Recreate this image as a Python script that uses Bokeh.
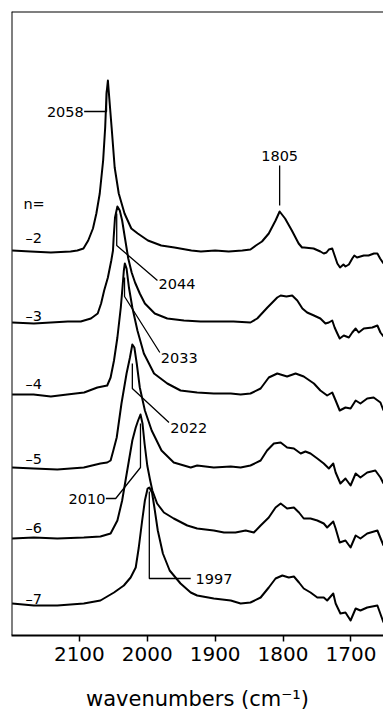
from bokeh.plotting import figure
from bokeh.models import Range1d, Span, Label, FixedTicker
from bokeh.embed import file_html
from bokeh.resources import INLINE

FONT = "DejaVu Sans"

# IR spectra of the carbonyl region for charge states n = -2 ... -7
# wavenumber (cm-1) and absorbance above each trace's own baseline
series_n = [-2, -3, -4, -5, -6, -7]
offsets = [3.84, 3.13, 2.41, 1.68, 0.98, 0.31]

wn_m2 = [2199, 2172, 2142, 2113, 2103, 2094, 2087, 2080, 2075, 2070, 2065, 2062, 2060, 2058, 2056.5,
         2052.5, 2048, 2042, 2033.5, 2023.5, 2014, 1999, 1979.5, 1960, 1935, 1921, 1900, 1880, 1860, 1848,
         1840, 1831, 1821, 1811, 1805, 1797, 1787, 1777, 1772, 1769, 1755, 1745, 1740, 1736, 1732.5,
         1727.5, 1724, 1720, 1716, 1711, 1708, 1703, 1698, 1695, 1691, 1686, 1681, 1674, 1666, 1661,
         1657, 1652]
ab_m2 = [0.01, 0.00, -0.01, 0.00, 0.01, 0.03, 0.11, 0.23, 0.38, 0.58, 0.91, 1.24, 1.58, 1.71, 1.58,
         1.24, 0.84, 0.58, 0.38, 0.23, 0.18, 0.11, 0.06, 0.04, 0.01, 0.00, 0.01, 0.00, 0.01, 0.02,
         0.06, 0.10, 0.18, 0.31, 0.40, 0.33, 0.21, 0.08, 0.04, 0.04, 0.03, 0.00, -0.02, -0.01, 0.02,
         0.03, -0.04, -0.12, -0.16, -0.13, -0.15, -0.13, -0.07, -0.04, -0.06, -0.05, -0.04, -0.04, -0.02, -0.02,
         -0.07, -0.12]

wn_m3 = [2199, 2167, 2142, 2117, 2098, 2083, 2073, 2068, 2063.5, 2058, 2053, 2050.5, 2049.5, 2047.5, 2044,
         2040.5, 2037, 2033, 2028, 2023, 2018, 2011, 2003.5, 1989, 1970.5, 1946, 1921.5, 1873, 1848, 1838,
         1823, 1808.5, 1803.5, 1795, 1786.5, 1779, 1771.5, 1764.5, 1754.5, 1745, 1737.5, 1732.5, 1727.5, 1724, 1720,
         1716.5, 1710.5, 1703, 1698, 1693, 1688.5, 1681, 1668.5, 1661, 1656.5, 1652]
ab_m3 = [0.00, -0.01, 0.00, 0.01, 0.01, 0.04, 0.09, 0.19, 0.32, 0.45, 0.62, 0.72, 0.85, 1.05, 1.16,
         1.12, 1.02, 0.85, 0.64, 0.50, 0.40, 0.29, 0.19, 0.09, 0.04, 0.02, 0.01, 0.01, 0.00, 0.04,
         0.15, 0.25, 0.27, 0.26, 0.27, 0.22, 0.14, 0.10, 0.07, 0.04, -0.01, 0.00, 0.02, -0.05, -0.11,
         -0.16, -0.13, -0.15, -0.10, -0.06, -0.10, -0.06, -0.05, -0.03, -0.10, -0.14]

wn_m4 = [2199, 2167.5, 2142, 2118, 2093, 2073.5, 2059, 2054, 2049, 2044, 2039, 2036.5, 2034.5, 2033, 2030.5,
         2027, 2022, 2014.5, 2005, 1990, 1970.5, 1951, 1926.5, 1902, 1877, 1862.5, 1848, 1833, 1821, 1808.5,
         1794, 1781.5, 1769.5, 1754.5, 1745, 1735, 1727.5, 1722.5, 1716.5, 1708, 1700.5, 1693, 1686, 1676, 1666.5,
         1656.5, 1652]
ab_m4 = [0.00, 0.00, -0.02, 0.00, 0.02, 0.07, 0.09, 0.17, 0.34, 0.57, 0.87, 1.07, 1.24, 1.31, 1.26,
         1.07, 0.87, 0.64, 0.41, 0.21, 0.11, 0.04, 0.02, 0.01, 0.01, 0.00, 0.01, 0.06, 0.17, 0.21,
         0.18, 0.21, 0.18, 0.11, 0.04, -0.01, 0.02, -0.06, -0.16, -0.13, -0.14, -0.06, -0.09, -0.04, -0.03,
         -0.08, -0.16]

wn_m5 = [2199, 2167, 2132.5, 2093.5, 2069, 2059, 2054, 2050, 2045, 2038, 2030.5, 2025.5, 2022, 2019, 2015.5,
         2011, 2003.5, 1993.5, 1979, 1961, 1936, 1926.5, 1902, 1877, 1862.5, 1848, 1833, 1823.5, 1813.5, 1803.5,
         1794, 1784, 1774, 1767, 1759.5, 1749.5, 1740, 1732.5, 1726, 1722.5, 1715.5, 1708, 1700.5, 1693, 1686,
         1676, 1664, 1656.5, 1652]
ab_m5 = [0.00, -0.01, -0.02, 0.00, 0.04, 0.05, 0.07, 0.17, 0.30, 0.64, 0.94, 1.10, 1.23, 1.20, 1.04,
         0.80, 0.57, 0.37, 0.17, 0.05, 0.00, 0.02, 0.00, 0.01, 0.00, 0.02, 0.07, 0.17, 0.24, 0.25,
         0.20, 0.19, 0.14, 0.16, 0.14, 0.09, 0.04, -0.01, 0.04, -0.05, -0.16, -0.11, -0.18, -0.06, -0.10,
         -0.05, -0.03, -0.10, -0.16]

wn_m6 = [2199, 2167, 2132.5, 2093.5, 2069, 2054, 2044, 2037, 2032, 2027, 2022, 2017, 2013.5, 2010, 2007,
         2004, 2000, 1996, 1992.5, 1985.5, 1975.5, 1961, 1941, 1926.5, 1902, 1887, 1870, 1855, 1843, 1833,
         1821, 1811, 1803.5, 1794, 1784, 1776.5, 1769.5, 1759.5, 1749.5, 1740, 1735, 1726, 1722.5, 1716.5, 1708,
         1700.5, 1693, 1686, 1676, 1661, 1652]
ab_m6 = [-0.01, 0.00, -0.01, 0.00, 0.01, 0.04, 0.17, 0.37, 0.57, 0.77, 0.97, 1.10, 1.17, 1.23, 1.14,
         0.94, 0.72, 0.58, 0.47, 0.34, 0.25, 0.19, 0.12, 0.09, 0.07, 0.05, 0.05, 0.07, 0.05, 0.12,
         0.20, 0.30, 0.34, 0.29, 0.30, 0.25, 0.19, 0.19, 0.17, 0.14, 0.10, 0.16, 0.09, -0.05, -0.03,
         -0.10, 0.02, -0.01, 0.04, 0.07, -0.08]

wn_m7 = [2199, 2167, 2132.5, 2093.5, 2069, 2049, 2034.5, 2024.5, 2017, 2012.5, 2007.5, 2003.5, 1999.5, 1997, 1993,
         1989.5, 1984.5, 1977, 1967, 1951, 1936, 1926.5, 1902, 1877, 1862.5, 1848, 1833, 1821, 1811, 1801,
         1791.5, 1784, 1776.5, 1769.5, 1759.5, 1749.5, 1740, 1735, 1726, 1722.5, 1715.5, 1708, 1700.5, 1693, 1686,
         1676, 1661, 1652]
ab_m7 = [0.01, -0.01, -0.01, 0.01, 0.04, 0.12, 0.19, 0.27, 0.37, 0.57, 0.84, 1.04, 1.16, 1.17, 1.12,
         0.97, 0.74, 0.51, 0.34, 0.21, 0.12, 0.09, 0.06, 0.04, 0.01, 0.02, 0.07, 0.17, 0.26, 0.29,
         0.27, 0.28, 0.22, 0.16, 0.12, 0.07, 0.07, 0.04, 0.11, 0.01, -0.09, -0.08, -0.16, -0.04, -0.06,
         -0.03, -0.01, -0.18]

spectra = [(wn_m2, ab_m2), (wn_m3, ab_m3), (wn_m4, ab_m4),
           (wn_m5, ab_m5), (wn_m6, ab_m6), (wn_m7, ab_m7)]

peak_positions = [2058, 2044, 2033, 2022, 2010, 1997]
bridge_band = 1805
tick_values = [2100, 2000, 1900, 1800, 1700]

p = figure(width=383, height=713, output_backend="svg", toolbar_location=None,
           x_range=Range1d(2200, 1652), y_range=Range1d(0, 6.24),
           y_axis_location=None, x_axis_location="below",
           min_border_left=11, min_border_right=0, min_border_top=11, min_border_bottom=78)
p.outline_line_color = None
p.xgrid.visible = False
p.ygrid.visible = False
p.background_fill_color = "white"
p.border_fill_color = "white"

ax = p.xaxis[0]
ax.ticker = FixedTicker(ticks=tick_values)
ax.major_tick_out = 6
ax.major_tick_in = 0
ax.minor_tick_out = 0
ax.minor_tick_in = 0
ax.axis_line_width = 2
ax.axis_line_color = "black"
ax.major_tick_line_width = 1.5
ax.major_tick_line_color = "black"
ax.major_label_text_font = FONT
ax.major_label_text_font_size = "20px"
ax.major_label_text_color = "black"
ax.major_label_standoff = 5
ax.axis_label = "wavenumbers (cm\u207b\u00b9)"
ax.axis_label_text_font = FONT
ax.axis_label_text_font_size = "21px"
ax.axis_label_text_font_style = "normal"
ax.axis_label_text_color = "black"
ax.axis_label_standoff = 23

# left and top frame edges
p.add_layout(Span(location=2200, dimension="height", line_color="black", line_width=2))
p.add_layout(Span(location=6.24, dimension="width", line_color="black", line_width=2))

for (wn, ab), off in zip(spectra, offsets):
    p.line(wn, [a + off for a in ab], line_color="black", line_width=2, line_join="round")


def txt(x, y, s, align="left", size="14.5px", baseline="middle"):
    p.add_layout(Label(x=x, y=y, text=s, text_font=FONT, text_font_size=size,
                       text_align=align, text_baseline=baseline, text_color="black"))


def leader(xs, ys):
    p.line(xs, ys, line_color="black", line_width=1.3)


# peak annotations
pk = peak_positions
leader([2093, pk[0] + 2, pk[0] + 2], [5.24, 5.24, 5.45])
txt(2093.5, 5.24, str(pk[0]), align="right")

leader([pk[1] + 1, pk[1] + 1, 1985], [4.22, 3.90, 3.55])
txt(1983.5, 3.52, str(pk[1]))

leader([pk[2] + 0.5, pk[2] + 0.5, 1981.5], [3.58, 3.39, 2.83])
txt(1980, 2.78, str(pk[2]))

leader([pk[3], pk[3], 1968], [2.72, 2.47, 2.13])
txt(1966, 2.08, str(pk[3]))

leader([2061, 2046.5, pk[4], pk[4]], [1.37, 1.37, 1.68, 2.12])
txt(2061.5, 1.37, str(pk[4]), align="right")

leader([pk[5], pk[5], 1936], [1.44, 0.57, 0.57])
txt(1929, 0.57, str(pk[5]))

leader([bridge_band, bridge_band], [4.30, 4.70])
txt(bridge_band, 4.80, str(bridge_band), align="center")

# charge-state labels
txt(2182.5, 4.32, "n=")
label_y = [3.98, 3.20, 2.52, 1.77, 1.08, 0.37]
for n, ly in zip(series_n, label_y):
    txt(2179.5, ly, "\u2013" + str(abs(n)))

open("out.html", "w").write(file_html(p, INLINE))
